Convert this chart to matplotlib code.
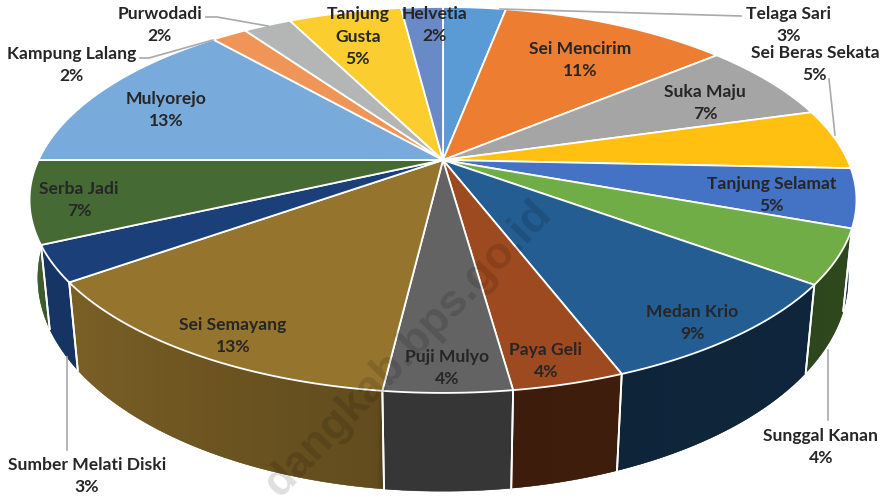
import numpy as np
import matplotlib
matplotlib.use("Agg")
import matplotlib.pyplot as plt

names = ["Telaga Sari", "Sei Mencirim", "Suka Maju", "Sei Beras Sekata", "Tanjung Selamat",
         "Sunggal Kanan", "Medan Krio", "Paya Geli", "Puji Mulyo", "Sei Semayang",
         "Sumber Melati Diski", "Serba Jadi", "Mulyorejo", "Kampung Lalang", "Purwodadi",
         "Tanjung Gusta", "Helvetia"]
shares = [3.0, 10.9, 6.7, 5.1, 4.9, 4.5, 9.1, 3.6, 4.1, 13.2, 3.0, 6.9, 13.6, 1.7, 2.3, 5.4, 2.0]
colors = ["#5B9BD5", "#ED7D31", "#A5A5A5", "#FFC012", "#4472C4", "#70AD47", "#245D92", "#9E4A20",
          "#636363", "#95742E", "#1B3F78", "#456A33", "#78ABDB", "#F09558", "#B4B6B5", "#FCCD2F",
          "#698AC6"]
# label text and where it sits on the canvas
label_text = ["Telaga Sari\n3%", "Sei Mencirim\n11%", "Suka Maju\n7%", "Sei Beras Sekata\n5%",
              "Tanjung Selamat\n5%", "Sunggal Kanan\n4%", "Medan Krio\n9%", "Paya Geli\n4%",
              "Puji Mulyo\n4%", "Sei Semayang\n13%", "Sumber Melati Diski\n3%", "Serba Jadi\n7%",
              "Mulyorejo\n13%", "Kampung Lalang\n2%", "Purwodadi\n2%", "Tanjung\nGusta\n5%",
              "Helvetia\n2%"]
label_x = [789, 580, 705, 815, 772, 821, 692, 546, 447, 233, 87, 79, 166, 72, 160, 358, 435]
label_y = [25, 60, 103, 64, 195, 447, 323, 361, 368, 336, 476, 200, 110, 65, 25, 37, 25]
leaders = [[(741, 16), (500, 9)], [(829, 79), (835, 135)], [(140, 58), (149, 58), (213, 40)],
           [(206, 17), (217, 17), (268, 26)], [(828, 350), (828, 420)], [(67, 357), (67, 450)]]

# projective rim of the top and bottom faces
cx, cy, a, b, k = 443, 160, 404.5, 184.7, 0.207
cy2, a2, b2, k2 = 235, 397, 205, 0.2


def top_rim(theta):
    u, v = np.sin(theta), np.cos(theta)
    w = 1 + k * v
    return cx + a * u / w, cy - b * v / w


def bottom_rim(theta):
    u, v = np.sin(theta), np.cos(theta)
    w = 1 + k2 * v
    return cx + a2 * u / w, cy2 - b2 * v / w


def shade(deg):
    return np.interp(deg, [100, 172, 172.1, 187, 187.1, 233, 245, 270],
                     [0.42, 0.39, 0.55, 0.55, 0.66, 0.82, 0.85, 0.9])


def draw_wall(ax, lo, hi, color):
    ts = np.linspace(lo, hi, 80)
    x1, y1 = top_rim(ts)
    x2, y2 = bottom_rim(ts[::-1])
    rgb = np.array(matplotlib.colors.to_rgb(color))
    poly = ax.fill(np.r_[x1, x2], np.r_[y1, y2], color=rgb * shade(np.degrees((lo + hi) / 2)),
                   lw=0.3, zorder=2)[0]
    # horizontal gradient clipped to the wall
    mid = (top_rim(ts)[0] + bottom_rim(ts)[0]) / 2
    order = np.argsort(mid)
    left, right = min(x1.min(), x2.min()), max(x1.max(), x2.max())
    xs = np.linspace(left, right, 200)
    factors = np.interp(xs, mid[order], shade(np.degrees(ts))[order])
    img = (rgb[None, None, :] * factors[None, :, None]).clip(0, 1)
    top, bot = min(y1.min(), y2.min()), max(y1.max(), y2.max())
    im = ax.imshow(img, extent=(left, right, bot, top), aspect="auto", zorder=2.5)
    im.set_clip_path(poly)


def main():
    fig = plt.figure(figsize=(8.87, 4.96), dpi=100)
    ax = fig.add_axes([0, 0, 1, 1])

    edges = np.radians(np.cumsum([0] + shares) * 360 / sum(shares))

    # side walls
    for i in range(len(shares)):
        t0, t1 = edges[i], edges[i + 1]
        lo, hi = max(t0, np.radians(80)), min(t1, np.radians(280))
        if lo >= hi:
            continue
        draw_wall(ax, lo, hi, colors[i])
        for t in [t0, t1]:
            if np.radians(105) < t < np.radians(250):
                x1, y1 = top_rim(t)
                x2, y2 = bottom_rim(t)
                ax.plot([x1, x2], [y1, y2], color="white", lw=1.3, zorder=3)

    # top face
    for i in range(len(shares)):
        ts = np.linspace(edges[i], edges[i + 1], 60)
        x, y = top_rim(ts)
        ax.fill(np.r_[cx, x], np.r_[cy, y], facecolor=colors[i], edgecolor="white", lw=1.3,
                joinstyle="round", zorder=4)

    # watermark over the pie
    ax.text(408, 349, "dangkab.bps.go.id", rotation=46, rotation_mode="anchor", ha="center", va="center",
            fontsize=32, family="Liberation Sans", fontweight="bold", color="black", alpha=0.13, zorder=5)

    for pts in leaders:
        ax.plot(*zip(*pts), color="#A9A9AE", lw=1.2, zorder=6)
    for text, x, y in zip(label_text, label_x, label_y):
        ax.text(x, y, text, ha="center", va="center", fontsize=12.6, family="Lato", fontweight="bold",
                color="#262626", linespacing=1.5, zorder=7)

    ax.set_xlim(0, 887)
    ax.set_ylim(496, 0)
    ax.axis("off")
    fig.savefig("out.png", dpi=100)
    plt.close(fig)


if __name__ == "__main__":
    main()
